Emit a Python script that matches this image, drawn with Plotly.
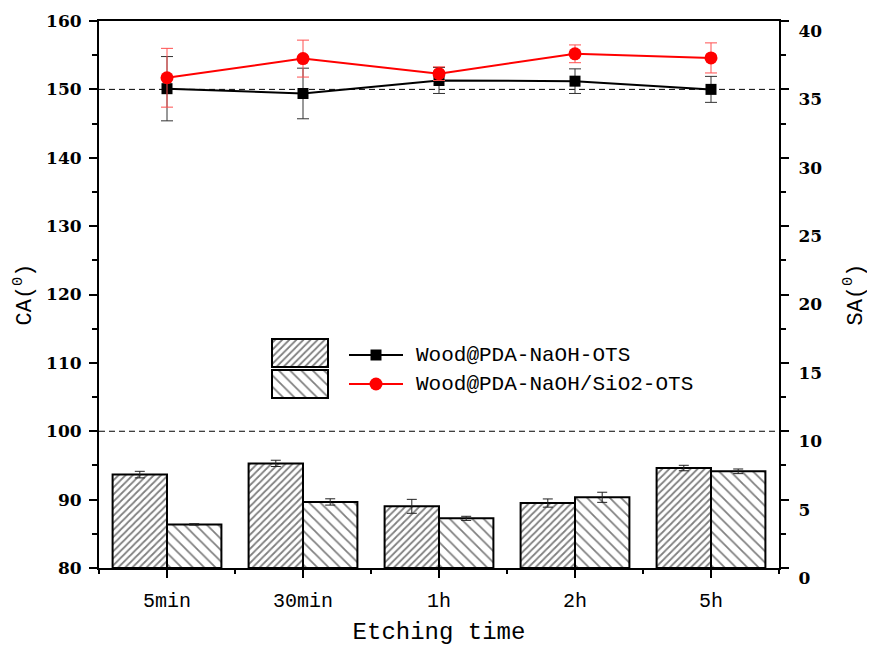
import plotly.graph_objects as go

categories = ["5min", "30min", "1h", "2h", "5h"]
series_names = ["Wood@PDA-NaOH-OTS", "Wood@PDA-NaOH/SiO2-OTS"]

# Contact angle (left axis, lines)
ca_ots = [150.1, 149.4, 151.3, 151.2, 150.0]
ca_ots_err = [4.7, 3.7, 1.9, 1.8, 1.9]
ca_sio2 = [151.7, 154.5, 152.3, 155.2, 154.6]
ca_sio2_err = [4.3, 2.7, 1.0, 1.3, 2.2]

# Sliding angle (right axis, bars)
sa_ots = [6.83, 7.65, 4.51, 4.75, 7.31]
sa_ots_err = [0.24, 0.23, 0.51, 0.30, 0.20]
sa_sio2 = [3.19, 4.83, 3.63, 5.17, 7.07]
sa_sio2_err = [0.05, 0.23, 0.15, 0.37, 0.17]

ref_lines = [150, 100]

xpos = list(range(len(categories)))
MONO = "Liberation Mono"

PAT_A = dict(shape="/", fgcolor="black", bgcolor="white", size=5, solidity=0.35)
PAT_B = dict(shape="\\", fgcolor="black", bgcolor="white", size=8, solidity=0.22)

fig = go.Figure()

# Bars (SA, right axis)
fig.add_trace(go.Bar(
    x=xpos, y=sa_ots, name=series_names[0] + " SA", yaxis="y2", showlegend=False,
    marker=dict(color="white", line=dict(color="black", width=2), pattern=PAT_A),
    error_y=dict(type="data", array=sa_ots_err, color="#222", thickness=1, width=5),
    offsetgroup="a",
))
fig.add_trace(go.Bar(
    x=xpos, y=sa_sio2, name=series_names[1] + " SA", yaxis="y2", showlegend=False,
    marker=dict(color="white", line=dict(color="black", width=2), pattern=PAT_B),
    error_y=dict(type="data", array=sa_sio2_err, color="#222", thickness=1, width=5),
    offsetgroup="b",
))

# Lines (CA, left axis)
fig.add_trace(go.Scatter(
    x=xpos, y=ca_ots, name=series_names[0], mode="lines+markers", showlegend=False,
    line=dict(color="black", width=2),
    marker=dict(symbol="square", size=11, color="black"),
    error_y=dict(type="data", array=ca_ots_err, color="#333", thickness=1, width=6),
))
fig.add_trace(go.Scatter(
    x=xpos, y=ca_sio2, name=series_names[1], mode="lines+markers", showlegend=False,
    line=dict(color="#ff0000", width=2),
    marker=dict(symbol="circle", size=13, color="#ff0000"),
    error_y=dict(type="data", array=ca_sio2_err, color="#ff5050", thickness=1, width=6),
))

# Legend drawn in an overlay axis using pixel-like coordinates
leg_rows = [355, 384]
leg_box_rows = [353, 384]
for yb, pat in zip(leg_box_rows, [PAT_A, PAT_B]):
    fig.add_trace(go.Bar(
        y=[yb], x=[56], base=[272], width=[28], orientation="h",
        xaxis="x3", yaxis="y3", showlegend=False, hoverinfo="skip",
        marker=dict(color="white", line=dict(color="black", width=2), pattern=pat),
    ))
leg_styles = [("black", "square", 11), ("#ff0000", "circle", 13)]
for row, (col, sym, sz), name in zip(leg_rows, leg_styles, series_names):
    fig.add_trace(go.Scatter(
        x=[349, 403], y=[row, row], mode="lines", xaxis="x3", yaxis="y3",
        line=dict(color=col, width=2), showlegend=False, hoverinfo="skip"))
    fig.add_trace(go.Scatter(
        x=[376], y=[row], mode="markers", xaxis="x3", yaxis="y3",
        marker=dict(symbol=sym, size=sz, color=col), showlegend=False, hoverinfo="skip"))
    fig.add_annotation(x=414, y=row, xref="x3", yref="y3", text=name, showarrow=False,
                       xanchor="left", yanchor="middle",
                       font=dict(family=MONO, size=21, color="black"))

for v in ref_lines:
    fig.add_shape(type="line", xref="paper", yref="y", x0=0, x1=1, y0=v, y1=v,
                  line=dict(color="black", width=1, dash="6px,4px"), layer="below")

tickfont = dict(family="DejaVu Serif", size=17, color="black", weight="bold")

# page body has an 8px default margin, so the figure is 8px smaller
fig.update_layout(
    width=867, height=640,
    margin=dict(l=91, r=96, t=13, b=80),
    plot_bgcolor="white", paper_bgcolor="white",
    barmode="group", bargap=0.2, bargroupgap=0,
    xaxis=dict(
        range=[-0.5, 4.5], tickmode="array", tickvals=xpos, ticktext=categories,
        showline=True, linecolor="black", linewidth=2, mirror=True,
        ticks="outside", ticklen=8, tickwidth=2, tickcolor="black",
        minor=dict(ticks="outside", ticklen=4, tickwidth=2, tickcolor="black", tick0=0.5, dtick=1),
        showgrid=False, zeroline=False, automargin=False,
        tickfont=dict(family=MONO, size=20, color="black"), ticklabelstandoff=5,
        title=dict(text="Etching time", font=dict(family=MONO, size=24, color="black"), standoff=10),
    ),
    yaxis=dict(
        range=[80, 160], dtick=10, tick0=80,
        showline=True, linecolor="black", linewidth=2,
        ticks="outside", ticklen=8, tickwidth=2, tickcolor="black",
        minor=dict(ticks="outside", ticklen=5, tickwidth=2, tickcolor="black", dtick=5),
        showgrid=False, zeroline=False, automargin=False, tickfont=tickfont, ticklabelstandoff=4,
        title=dict(text="CA(<sup>0</sup>)", font=dict(family=MONO, size=22, color="black"), standoff=8),
    ),
    yaxis2=dict(
        range=[0, 40], dtick=5, tick0=0, overlaying="y", side="right",
        showline=True, linecolor="black", linewidth=2,
        ticks="outside", ticklen=8, tickwidth=2, tickcolor="black",
        minor=dict(ticks="outside", ticklen=5, tickwidth=2, tickcolor="black", dtick=2.5),
        showgrid=False, zeroline=False, automargin=False, tickfont=tickfont, ticklabelstandoff=6,
        ticklabelshift=10,
        title=dict(text="SA(<sup>0</sup>)", font=dict(family=MONO, size=22, color="black"), standoff=25),
    ),
    xaxis3=dict(overlaying="x", range=[99, 779], visible=False, fixedrange=True, automargin=False),
    yaxis3=dict(overlaying="y", anchor="x3", range=[568, 21], visible=False, fixedrange=True, automargin=False),
)

fig.write_html("out.html")
